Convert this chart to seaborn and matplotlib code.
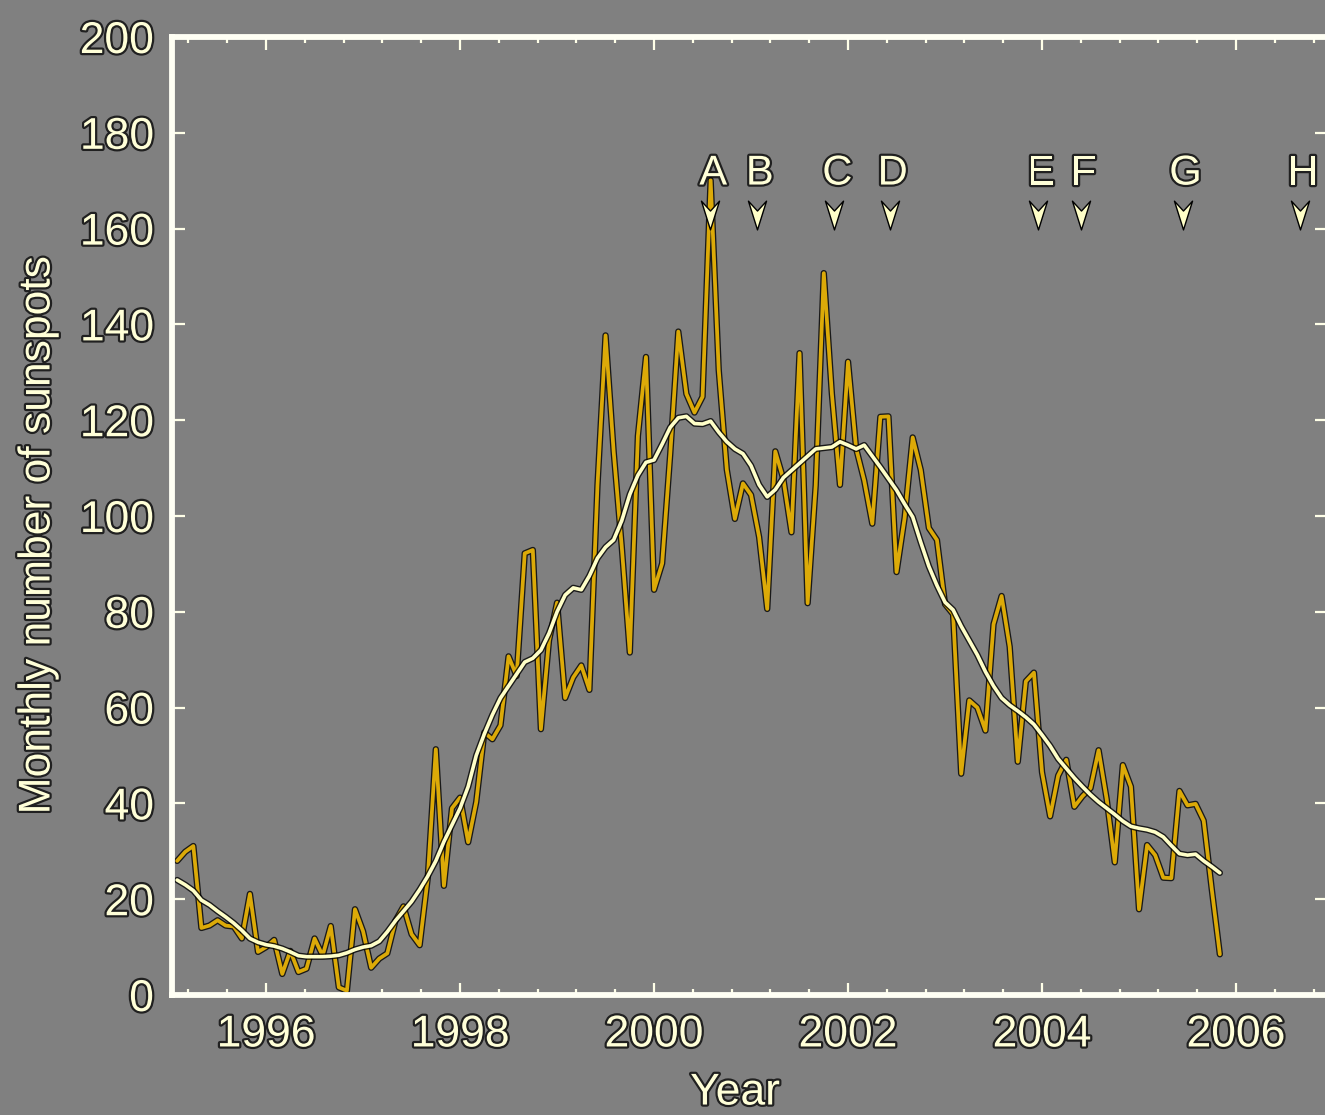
import numpy as np
import pandas as pd
import matplotlib
matplotlib.use("Agg")
import matplotlib.pyplot as plt
import seaborn as sns
from matplotlib import patheffects as pe
from matplotlib.path import Path
from matplotlib.ticker import MultipleLocator

# ---------------- data ----------------
years = [1995, 1996, 1997, 1998, 1999, 2000, 2001, 2002, 2003, 2004, 2005]

monthly_1995 = [28.0, 29.9, 31.1, 14.0, 14.5, 15.6, 14.5, 14.3, 11.8, 21.1, 9.0, 10.0]
monthly_1996 = [11.5, 4.4, 9.2, 4.8, 5.5, 11.8, 8.2, 14.4, 1.6, 0.9, 17.9, 13.3]
monthly_1997 = [5.7, 7.6, 8.7, 15.5, 18.5, 12.7, 10.4, 24.4, 51.3, 22.8, 39.0, 41.2]
monthly_1998 = [31.9, 40.3, 54.8, 53.4, 56.3, 70.7, 66.6, 92.2, 92.9, 55.5, 74.0, 81.9]
monthly_1999 = [62.0, 66.3, 68.8, 63.7, 106.4, 137.7, 113.5, 93.7, 71.5, 116.7, 133.2, 84.6]
monthly_2000 = [90.1, 112.9, 138.5, 125.5, 121.6, 124.9, 170.1, 130.5, 109.7, 99.4, 106.8, 104.4]
monthly_2001 = [95.6, 80.6, 113.5, 107.7, 96.6, 134.0, 81.8, 106.4, 150.7, 125.5, 106.5, 132.2]
monthly_2002 = [114.1, 107.4, 98.4, 120.7, 120.8, 88.3, 99.6, 116.4, 109.6, 97.5, 95.0, 81.6]
monthly_2003 = [79.5, 46.2, 61.5, 60.0, 55.2, 77.4, 83.3, 72.7, 48.7, 65.5, 67.3, 46.5]
monthly_2004 = [37.3, 45.8, 49.1, 39.3, 41.5, 43.2, 51.1, 40.9, 27.7, 48.0, 43.5, 17.9]
monthly_2005 = [31.3, 29.2, 24.5, 24.4, 42.6, 39.6, 39.9, 36.4, 22.1, 8.5]

smooth_1995 = [24.0, 23.0, 21.8, 19.8, 18.8, 17.5, 16.3, 15.0, 13.5, 11.8, 11.0, 10.5]
smooth_1996 = [10.2, 9.7, 9.0, 8.2, 8.0, 8.0, 8.0, 8.1, 8.3, 8.8, 9.5, 10.0]
smooth_1997 = [10.3, 11.2, 13.2, 15.5, 17.5, 19.5, 22.0, 24.8, 28.0, 32.0, 35.5, 39.0]
smooth_1998 = [43.5, 50.0, 54.5, 58.5, 62.0, 64.5, 67.0, 69.5, 70.3, 72.0, 75.5, 80.0]
smooth_1999 = [83.5, 85.0, 84.6, 87.5, 91.2, 93.5, 95.0, 99.0, 104.5, 108.5, 111.2, 111.7]
smooth_2000 = [115.0, 118.5, 120.5, 120.8, 119.3, 119.2, 119.8, 117.5, 115.5, 114.0, 113.0, 110.5]
smooth_2001 = [106.5, 104.0, 105.5, 108.0, 109.5, 111.0, 112.5, 114.0, 114.2, 114.4, 115.5, 114.8]
smooth_2002 = [114.0, 114.8, 112.5, 110.2, 107.8, 105.4, 102.5, 99.8, 94.5, 89.5, 85.5, 82.0]
smooth_2003 = [80.4, 77.0, 74.0, 71.0, 67.5, 64.5, 62.0, 60.5, 59.3, 58.0, 56.5, 54.3]
smooth_2004 = [52.0, 49.3, 47.3, 45.3, 43.5, 41.8, 40.3, 39.0, 37.7, 36.3, 35.2, 34.8]
smooth_2005 = [34.5, 34.0, 33.0, 31.2, 29.5, 29.2, 29.4, 28.0, 26.8, 25.5]

event_labels = ["A", "B", "C", "D", "E", "F", "G", "H"]
event_years = [2000.58, 2001.06, 2001.86, 2002.43, 2003.96, 2004.40, 2005.45, 2006.66]

x_tick_values = [1996, 1998, 2000, 2002, 2004, 2006]
y_tick_values = [0, 20, 40, 60, 80, 100, 120, 140, 160, 180, 200]

monthly_by_year = [monthly_1995, monthly_1996, monthly_1997, monthly_1998, monthly_1999,
                   monthly_2000, monthly_2001, monthly_2002, monthly_2003, monthly_2004,
                   monthly_2005]
smooth_by_year = [smooth_1995, smooth_1996, smooth_1997, smooth_1998, smooth_1999,
                  smooth_2000, smooth_2001, smooth_2002, smooth_2003, smooth_2004,
                  smooth_2005]

rows = []
for yr, mvals, svals in zip(years, monthly_by_year, smooth_by_year):
    for m, (v, s) in enumerate(zip(mvals, svals), start=1):
        rows.append({"t": yr + m / 12.0, "monthly": v, "smooth": s})
df = pd.DataFrame(rows)
ev = pd.DataFrame({"t": event_years, "label": event_labels})

# ---------------- style ----------------
BG = "#808080"
TXT = "#ffffd8"
GOLD = "#dcaa08"
CREAM = "#ffffc8"

sns.set_style("ticks", rc={"axes.facecolor": BG, "figure.facecolor": BG})
plt.rcParams["font.family"] = ["Liberation Sans", "DejaVu Sans"]

W, H = 1325, 1115
fig = plt.figure(figsize=(W / 100, H / 100), dpi=100)
ax_left, ax_right = 172 / W, 1327 / W
ax_bot, ax_top = (H - 995) / H, (H - 37) / H
ax = fig.add_axes([ax_left, ax_bot, ax_right - ax_left, ax_top - ax_bot])
ax.set_facecolor(BG)

halo = [pe.withStroke(linewidth=3.2, foreground="black", alpha=0.75)]
line_halo = [pe.Stroke(linewidth=4.6, foreground="black", alpha=0.8), pe.Normal()]

sns.lineplot(data=df, x="t", y="monthly", ax=ax, color=GOLD, lw=2.7,
             estimator=None, sort=False)
ax.lines[-1].set_path_effects(line_halo)
sns.lineplot(data=df, x="t", y="smooth", ax=ax, color=CREAM, lw=2.6,
             estimator=None, sort=False)
ax.lines[-1].set_path_effects(line_halo)

# event arrows (down-pointing notched arrowheads)
arrow_path = Path([(0, -1.0), (-0.55, 0.75), (0, 0.15), (0.55, 0.75), (0, -1.0)],
                  [Path.MOVETO, Path.LINETO, Path.LINETO, Path.LINETO, Path.CLOSEPOLY])
sns.scatterplot(x=ev["t"], y=[163.3] * len(ev), ax=ax, marker=arrow_path, s=560,
                color=CREAM, edgecolor="black", linewidth=1.0, zorder=5, legend=False)
for t, lab in zip(ev["t"], ev["label"]):
    ax.text(t + 0.03, 171.5, lab, ha="center", va="center", fontsize=30,
            color=TXT, path_effects=halo, zorder=6)

# axes
ax.set_xlim(1995.03, 1996 + (1327 - 266) / 97.0)
ax.set_ylim(0, 200)
ax.xaxis.set_major_locator(MultipleLocator(2))
ax.xaxis.set_minor_locator(MultipleLocator(0.4))
ax.set_yticks(y_tick_values)
ax.set_xticks(x_tick_values)

for side in ["left", "right", "top", "bottom"]:
    ax.spines[side].set_visible(True)
    ax.spines[side].set_color("#fffff4")
    ax.spines[side].set_linewidth(4.2)

ax.tick_params(which="both", direction="in", top=True, right=True,
               color="#ffffe8", width=1.6)
ax.tick_params(which="major", length=9)
ax.tick_params(which="minor", length=4)
ax.tick_params(axis="x", which="major", labelsize=32, labelcolor=TXT, pad=14)
ax.tick_params(axis="y", which="major", labelsize=32, labelcolor=TXT, pad=13)

ax.set_xlabel("Year", fontsize=32, color=TXT, va="center", path_effects=halo)
ax.xaxis.set_label_coords((735 - 172) / (1327 - 172), (995 - 1093) / 958)
ax.set_ylabel("Monthly number of sunspots", fontsize=32, color=TXT, va="center",
              path_effects=halo)
ax.yaxis.set_label_coords((38 - 172) / (1327 - 172), (995 - 535) / 958)

fig.canvas.draw()
for lab in ax.get_xticklabels() + ax.get_yticklabels():
    lab.set_path_effects(halo)

fig.savefig("out.png", dpi=100, facecolor=BG)
